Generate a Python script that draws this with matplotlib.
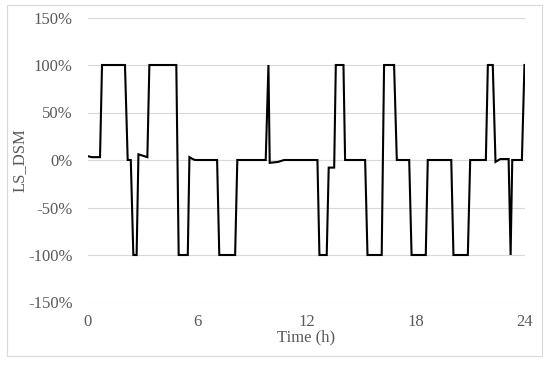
import matplotlib
matplotlib.use("Agg")
import matplotlib.pyplot as plt
from matplotlib.patches import Rectangle

# breakpoints of the LS_DSM profile (hours, percent)
time_h = [0, 0.2, 0.66, 0.77, 2.03, 2.18, 2.35, 2.49, 2.67, 2.77,
          3.26, 3.37, 4.85, 4.98, 5.48, 5.57, 5.75, 5.88, 7.09, 7.21,
          8.08, 8.2, 9.76, 9.91, 9.98, 10.44, 10.77, 12.6, 12.71, 13.11,
          13.22, 13.52, 13.61, 14.03, 14.12, 15.22, 15.35, 16.13, 16.26, 16.81,
          16.96, 17.64, 17.77, 18.55, 18.66, 19.95, 20.07, 20.86, 20.99, 21.85,
          21.96, 22.23, 22.38, 22.64, 23.1, 23.21, 23.3, 23.83, 23.97, 24]
ls_dsm = [4, 3, 3, 100, 100, 0, 0, -100, -100, 6,
          3, 100, 100, -100, -100, 3, 1, 0, 0, -100,
          -100, 0, 0, 100, -3, -2, 0, 0, -100, -100,
          -8, -8, 100, 100, 0, 0, -100, -100, 100, 100,
          0, 0, -100, -100, 0, 0, -100, -100, 0, 0,
          100, 100, -2, 1, 1, -100, 0, 0, 100, 100]

x_ticks = [0, 6, 12, 18, 24]
y_ticks = [-150, -100, -50, 0, 50, 100, 150]
y_labels = [f"{v}%" for v in y_ticks]

plt.rcParams['font.family'] = ['Liberation Serif', 'DejaVu Serif']

fig = plt.figure(figsize=(5.5, 3.65), dpi=100)
ax = fig.add_axes([88/550, 1 - 302.5/365, (525 - 88)/550, (302.5 - 17.5)/365])

ax.plot(time_h, ls_dsm, color="black", lw=1.5, solid_joinstyle="miter")

ax.set_xlim(0, 24)
ax.set_ylim(-150, 150)
ax.set_xticks(x_ticks)
ax.set_yticks(y_ticks)
ax.set_yticklabels(y_labels)
ax.tick_params(length=0, labelsize=12, colors="#595959", pad=11)
ax.tick_params(axis="x", pad=8)
for s in ax.spines.values():
    s.set_visible(False)
ax.grid(axis="y", color="#d9d9d9", lw=0.8)
ax.set_axisbelow(True)

ax.set_xlabel("Time (h)", fontsize=12, color="#595959", labelpad=0)
ax.set_ylabel("LS_DSM", fontsize=12, color="#595959")
ax.yaxis.set_label_coords(-0.137, 0.5)

# light chart border
fig.patches.append(Rectangle((7/550, 1 - 356/365), (542 - 7)/550, (356 - 5)/365,
                             transform=fig.transFigure, fill=False,
                             edgecolor="#d9d9d9", lw=0.8))

fig.savefig("out.png", dpi=100)
